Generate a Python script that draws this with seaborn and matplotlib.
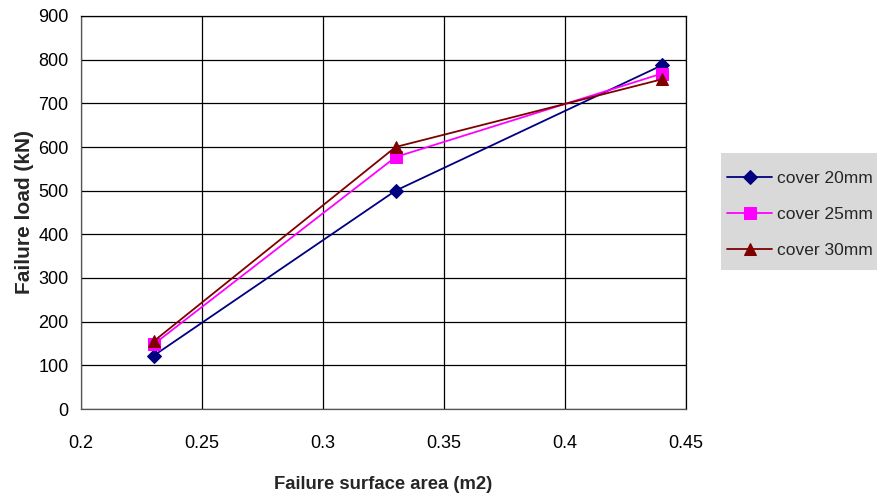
import matplotlib
matplotlib.use("Agg")
import matplotlib.pyplot as plt
from matplotlib.patches import Rectangle
import seaborn as sns
import pandas as pd

# Failure surface area (m2) and failure load (kN) for each concrete cover
area = [0.23, 0.33, 0.44]
load_20 = [122, 500, 787]
load_25 = [148, 577, 768]
load_30 = [155, 600, 755]
series = ["cover 20mm", "cover 25mm", "cover 30mm"]
xtick_labels = ["0.2", "0.25", "0.3", "0.35", "0.4", "0.45"]

colors = ["#000080", "#FF00FF", "#800000"]
markers = ["D", "s", "^"]
msizes = [7, 8, 9]

df = pd.concat([
    pd.DataFrame({"area": area, "load": vals, "series": name})
    for name, vals in zip(series, [load_20, load_25, load_30])
])

sns.set_theme(style="white")
plt.rcParams["font.family"] = ["Liberation Sans", "DejaVu Sans"]

fig = plt.figure(figsize=(8.77, 4.95), dpi=100)
ax = fig.add_axes([81 / 877, 1 - 409 / 495, (686 - 81) / 877, (409 - 16) / 495])

for name, c, m, ms in zip(series, colors, markers, msizes):
    sub = df[df["series"] == name]
    sns.lineplot(data=sub, x="area", y="load", ax=ax, color=c, marker=m,
                 markersize=ms, markeredgecolor=c, linewidth=1.3, label=name,
                 legend=False, sort=False, zorder=3)

ax.set_xlim(0.2, 0.45)
ax.set_ylim(0, 900)
ax.set_xticks([float(t) for t in xtick_labels])
ax.set_xticklabels(xtick_labels)
ax.set_yticks(range(0, 1000, 100))
ax.grid(True, color="black", linewidth=0.9)
ax.set_axisbelow(True)
for s in ax.spines.values():
    s.set_color("black")
    s.set_linewidth(0.9)
ax.spines["left"].set_color("#555555")
ax.spines["bottom"].set_color("#555555")
ax.tick_params(axis="both", direction="out", length=5, width=0.9, colors="black",
               labelsize=13, pad=4)
ax.tick_params(axis="x", pad=14)

ax.set_xlabel("Failure surface area (m2)", fontsize=13.3, fontweight="bold", labelpad=17)
ax.set_ylabel("Failure load (kN)", fontsize=15, fontweight="bold", labelpad=3)

# Grey legend panel to the right of the plot
fig.patches.append(Rectangle((721 / 877, 1 - 270 / 495), (877 - 721) / 877, (270 - 153) / 495,
                             transform=fig.transFigure, facecolor="#D9D9D9",
                             edgecolor="none", zorder=0))

handles, labels = ax.get_legend_handles_labels()
leg = fig.legend(handles, labels, loc="upper left",
                 bbox_to_anchor=(727 / 877, 1 - 171 / 495), frameon=False,
                 fontsize=12.5, handlelength=2.6, labelspacing=1.21,
                 borderpad=0, borderaxespad=0, handletextpad=0.3)

fig.savefig("out.png", dpi=100, facecolor="white")
